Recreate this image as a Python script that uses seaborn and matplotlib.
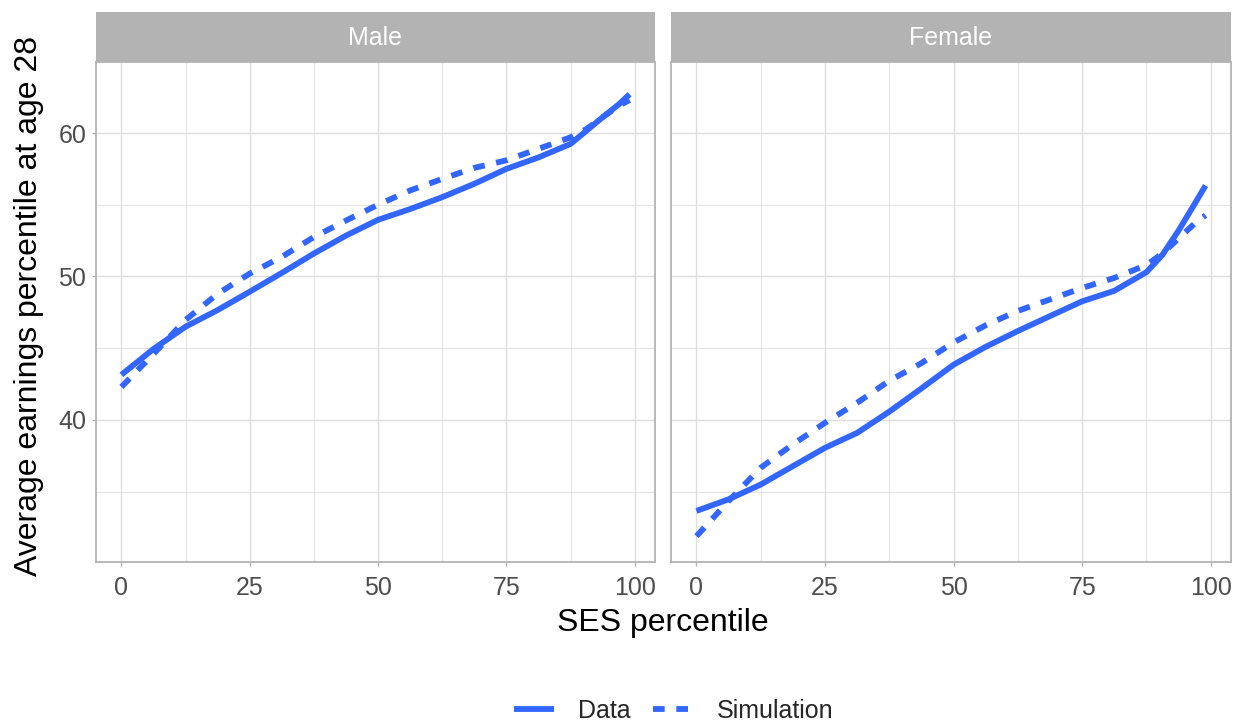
import matplotlib
matplotlib.use("Agg")
import matplotlib.pyplot as plt
import seaborn as sns
import pandas as pd
from matplotlib.lines import Line2D
from matplotlib.ticker import FixedLocator

# ---- data ----
ses = [0, 6.25, 12.5, 18.75, 25, 31.25, 37.5, 43.75, 50, 56.25, 62.5, 68.75,
       75, 81.25, 87.5, 90.6, 93.75, 96.9, 99]
male_data = [43.15, 44.95, 46.5, 47.66, 48.94, 50.25, 51.6, 52.85, 53.95, 54.7,
             55.53, 56.46, 57.5, 58.3, 59.24, 60.16, 61.1, 62.0, 62.7]
male_sim = [42.3, 44.6, 46.97, 48.8, 50.2, 51.37, 52.75, 53.9, 55.0, 56.0,
            56.8, 57.57, 58.1, 58.9, 59.7, 60.28, 61.1, 61.9, 62.3]
female_data = [33.66, 34.47, 35.5, 36.78, 38.06, 39.1, 40.58, 42.2, 43.85, 45.1,
               46.2, 47.24, 48.27, 49.0, 50.3, 51.5, 53.2, 55.07, 56.34]
female_sim = [31.9, 34.35, 36.67, 38.3, 39.8, 41.2, 42.73, 43.96, 45.4, 46.6,
              47.6, 48.4, 49.2, 49.9, 50.8, 51.6, 52.65, 53.7, 54.26]
panels = ["Male", "Female"]
series = ["Data", "Simulation"]
x_ticks = [0, 25, 50, 75, 100]
y_ticks = [40, 50, 60]

rows = []
for panel, d, s in [("Male", male_data, male_sim), ("Female", female_data, female_sim)]:
    for x, v in zip(ses, d):
        rows.append((panel, "Data", x, v))
    for x, v in zip(ses, s):
        rows.append((panel, "Simulation", x, v))
df = pd.DataFrame(rows, columns=["sex", "type", "ses", "earn"])

sns.set_theme(style="white")
plt.rcParams["font.family"] = ["Liberation Sans", "DejaVu Sans"]

W, H = 1236, 723
fig = plt.figure(figsize=(W / 100, H / 100), dpi=100)

blue = "#3366FF"
grid_c = "#DEDEDE"
border_c = "#B3B3B3"
lw = 4.2
dash = (2.0, 2.0)
small = 18
big = 23

panel_px = {"Male": (96, 655), "Female": (671, 1231)}
top_px, bot_px = 62, 562
strip_top = 12

for i, p in enumerate(panels):
    l, r = panel_px[p]
    ax = fig.add_axes([l / W, 1 - bot_px / H, (r - l) / W, (bot_px - top_px) / H])
    sub = df[df["sex"] == p]
    sns.lineplot(data=sub, x="ses", y="earn", style="type", style_order=series,
                 dashes={"Data": "", "Simulation": dash}, color=blue, linewidth=lw,
                 legend=False, ax=ax, estimator=None, sort=True)
    for ln in ax.get_lines():
        ln.set_solid_capstyle("butt")
        ln.set_dash_capstyle("butt")
        ln.set_solid_joinstyle("round")
    ax.set_xlim(-4.95, 103.95)
    ax.set_ylim(30.1, 64.95)
    ax.xaxis.set_major_locator(FixedLocator(x_ticks))
    ax.xaxis.set_minor_locator(FixedLocator([12.5, 37.5, 62.5, 87.5]))
    ax.yaxis.set_major_locator(FixedLocator(y_ticks))
    ax.yaxis.set_minor_locator(FixedLocator([35, 45, 55]))
    ax.grid(True, which="major", color=grid_c, linewidth=1.0)
    ax.grid(True, which="minor", color=grid_c, linewidth=0.6)
    ax.set_axisbelow(True)
    for sp in ax.spines.values():
        sp.set_color(border_c)
        sp.set_linewidth(1.3)
    ax.tick_params(axis="x", which="major", length=3, width=1.0, color=border_c,
                   labelsize=small, labelcolor="#4D4D4D", pad=7, bottom=True)
    ax.tick_params(axis="x", which="minor", length=0)
    ax.tick_params(axis="y", which="minor", length=0)
    if i == 0:
        ax.tick_params(axis="y", which="major", length=3, width=1.0, color=border_c,
                       labelsize=small, labelcolor="#4D4D4D", pad=4, left=True)
    else:
        ax.tick_params(axis="y", which="major", length=0, labelleft=False)
    ax.set_xlabel("")
    ax.set_ylabel("")
    # strip
    sax = fig.add_axes([l / W, 1 - top_px / H, (r - l) / W, (top_px - strip_top) / H])
    sax.set_facecolor(border_c)
    sax.set_xticks([])
    sax.set_yticks([])
    for sp in sax.spines.values():
        sp.set_visible(False)
    sax.text(0.5, 0.48, p, ha="center", va="center", color="white", fontsize=small,
             transform=sax.transAxes)

fig.text(663 / W, 1 - 623 / H, "SES percentile", ha="center", va="center",
         fontsize=big, color="black")
fig.text(29 / W, 1 - 306 / H, "Average earnings percentile at age 28", ha="center",
         va="center", rotation=90, fontsize=big, color="black")

handles = [Line2D([], [], color=blue, linewidth=lw, solid_capstyle="butt"),
           Line2D([], [], color=blue, linewidth=lw, dashes=dash, dash_capstyle="butt")]
fig.legend(handles, series, loc="center", bbox_to_anchor=(674 / W, 1 - 711 / H),
           ncol=2, frameon=False, fontsize=small, handlelength=1.6,
           columnspacing=0.9, handletextpad=0.95)

fig.savefig("out.png", dpi=100)
